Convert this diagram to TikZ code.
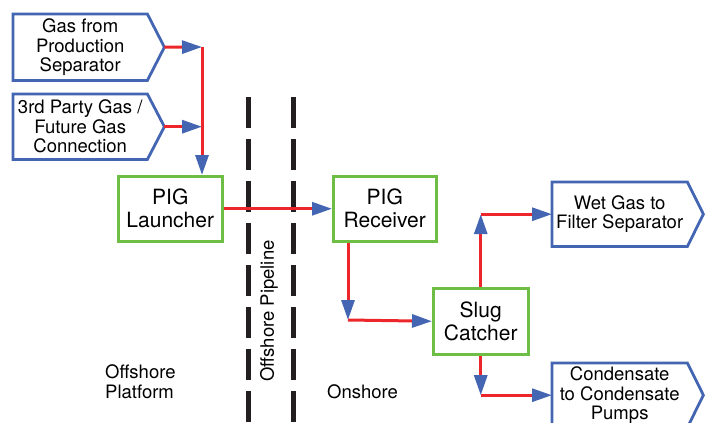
\documentclass[tikz,border=0pt]{standalone}
\usepackage{fontspec}
\setmainfont{TeX Gyre Heros}
\usetikzlibrary{arrows.meta,calc}
\definecolor{flowred}{RGB}{236,38,42}
\definecolor{portblue}{RGB}{68,102,178}
\definecolor{unitgreen}{RGB}{110,190,70}
\definecolor{zoneblack}{RGB}{35,31,32}

% outline of an inlet/outlet box with a pointed right end
\newcommand\portoutline[2]{%
  \draw[portline] (#1.north west) -- (#1.north east) -- ([xshift=#2]#1.east)
    -- (#1.south east) -- (#1.south west) -- cycle;
  \coordinate (#1-tip) at ([xshift=#2]#1.east);}

\begin{document}
\begin{tikzpicture}[x=1pt,y=-1pt,
  unit/.style={draw=unitgreen,line width=2.5pt,fill=white,align=center,
    inner sep=0pt,anchor=north west,font=\fontsize{21}{23}\selectfont},
  portbody/.style={align=center,inner sep=0pt,anchor=north west,
    font=\fontsize{18.5}{19.5}\selectfont},
  portline/.style={draw=portblue,line width=2.8pt,line join=miter},
  flow/.style={draw=flowred,line width=3pt,
    -{Triangle[length=20pt,width=13pt,color=portblue]}},
  boundary/.style={draw=zoneblack,line width=5pt,dash pattern=on 31pt off 11pt},
  zonetext/.style={align=left,inner sep=0pt,font=\fontsize{18.5}{20}\selectfont}
]
\useasboundingbox (0,0) rectangle (705,423);

% zone boundaries of the offshore pipeline
\draw[boundary] (248,97) -- (248,430);
\draw[boundary] (293,97) -- (293,430);
\node[zonetext,rotate=90] (pipe) at (269,311) {Offshore Pipeline};
\node[zonetext,anchor=west] (platform) at (105,382) {Offshore\\Platform};
\node[zonetext,anchor=west] (onshore) at (327,392) {Onshore};

% inlet streams
\node[portbody,minimum width=134pt,minimum height=66pt] (gps) at (13,14)
  {Gas from\\Production\\Separator};
\portoutline{gps}{17pt}
\node[portbody,minimum width=134pt,minimum height=65pt] (tpg) at (13,94)
  {3rd Party Gas /\\Future Gas\\Connection};
\portoutline{tpg}{17pt}

% outlet streams
\node[portbody,minimum width=135pt,minimum height=64pt] (wet) at (552,182)
  {Wet Gas to\\Filter Separator};
\portoutline{wet}{16pt}
\node[portbody,minimum width=135pt,minimum height=64pt] (cond) at (552,363)
  {Condensate\\to Condensate\\Pumps};
\portoutline{cond}{16pt}

% process units
\node[unit,minimum width=104pt,minimum height=65pt] (launcher) at (117,175)
  {PIG\\Launcher};
\node[unit,minimum width=103pt,minimum height=65pt] (receiver) at (332,175)
  {PIG\\Receiver};
\node[unit,minimum width=95pt,minimum height=66pt] (slug) at (432,287)
  {Slug\\Catcher};

% bends of the flow lines
\coordinate (j1) at (202,47);
\coordinate (j2) at (j1 |- tpg-tip);
\coordinate (c1) at (348,320);
\coordinate (c2) at (slug.north |- wet.west);
\coordinate (c3) at (slug.south |- cond.west);

% flow lines
\draw[flow] (gps-tip) -- (j1);
\draw[flow] (tpg-tip) -- (j2);
\draw[flow] (j1) -- (j1 |- launcher.north);
\draw[flow] (launcher.east) -- (receiver.west);
\draw[flow] (c1 |- receiver.south) -- (c1);
\draw[flow] (c1) -- (slug.west);
\draw[flow] (slug.north) -- (c2);
\draw[flow] (c2) -- (wet.west);
\draw[flow] (slug.south) -- (c3);
\draw[flow] (c3) -- (cond.west);
\end{tikzpicture}
\end{document}
